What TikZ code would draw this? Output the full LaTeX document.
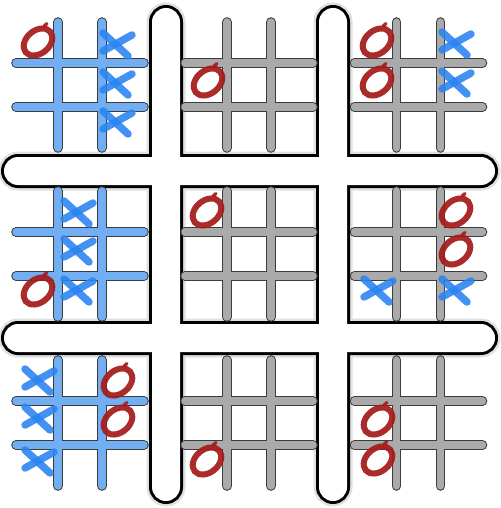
\documentclass[tikz,border=0pt]{standalone}
\definecolor{gridblue}{HTML}{72AEF2}
\definecolor{gridgray}{HTML}{AAAAAA}
\definecolor{gridedge}{HTML}{3C3C3C}
\definecolor{ored}{HTML}{A51B1B}
\definecolor{xblue}{HTML}{2A84F2}
\tikzset{
  barline/.style={black, line width=6},
  barshadow/.style={black!12, line width=11},
  barfill/.style={fill=white},
  gridout/.style={gridedge, line width=9.6, line cap=round},
  gridin/.style={line width=7.4, line cap=round},
  omark/.pic={
    \draw[ored, line width=6, opacity=0.93, rotate=40] (0,0) ellipse [x radius=16, y radius=11.5];
    \draw[ored, line width=3.2, line cap=round, opacity=0.93] (6,-16) -- (9,-18.5);
  },
  xmark/.pic={
    \draw[xblue, line width=7.5, line cap=round, opacity=0.88] (-14,7) -- (15,-9);
    \draw[xblue, line width=7.5, line cap=round, opacity=0.88] (-14,-11) -- (11,12);
  }
}
\newcommand\tttgrid[3]{%
  \begin{scope}[shift={(#1,#2)}]
    \foreach \d in {-22,22}{
      \draw[gridout] (\d,-63) -- (\d,63);
      \draw[gridout] (-64,\d) -- (64,\d);
    }
    \foreach \d in {-22,22}{
      \draw[gridin, #3] (\d,-63) -- (\d,63);
      \draw[gridin, #3] (-64,\d) -- (64,\d);
    }
  \end{scope}}
\begin{document}
\begin{tikzpicture}[x=1pt, y=-1pt]
\useasboundingbox (0,0) rectangle (500,508);
\fill[white] (0,0) rectangle (500,508);
% big hash
\foreach \s in {barshadow, barline}{
  \draw[\s, rounded corners=14] (152,8) rectangle (180,501);
  \draw[\s, rounded corners=14] (319,8) rectangle (347,501);
  \draw[\s, rounded corners=14] (4,157) rectangle (495,185);
  \draw[\s, rounded corners=14] (4,324) rectangle (495,352);
}
\fill[barfill, rounded corners=14] (152,8) rectangle (180,501);
\fill[barfill, rounded corners=14] (319,8) rectangle (347,501);
\fill[barfill, rounded corners=14] (4,157) rectangle (495,185);
\fill[barfill, rounded corners=14] (4,324) rectangle (495,352);
% small grids
\tttgrid{80}{85}{gridblue}
\tttgrid{249}{85}{gridgray}
\tttgrid{418.5}{85}{gridgray}
\tttgrid{80}{254}{gridblue}
\tttgrid{249}{254}{gridgray}
\tttgrid{418.5}{254}{gridgray}
\tttgrid{80}{423}{gridblue}
\tttgrid{249}{423}{gridgray}
\tttgrid{418.5}{423}{gridgray}
% top-left board
\pic at (38,42) {omark};
\pic at (117,44) {xmark};
\pic at (117,83) {xmark};
\pic at (117,122) {xmark};
% top-middle
\pic at (208,82) {omark};
% top-right
\pic at (377,42) {omark};
\pic at (377,82) {omark};
\pic at (456,43) {xmark};
\pic at (456,82) {xmark};
% middle-left
\pic at (78,212) {xmark};
\pic at (78,250) {xmark};
\pic at (78,290) {xmark};
\pic at (38,291) {omark};
% middle-middle
\pic at (207,212) {omark};
% middle-right
\pic at (456,212) {omark};
\pic at (456,251) {omark};
\pic at (378,290) {xmark};
\pic at (456,290) {xmark};
% bottom-left
\pic at (39,380) {xmark};
\pic at (39,418) {xmark};
\pic at (39,461) {xmark};
\pic at (118,382) {omark};
\pic at (118,421) {omark};
% bottom-middle
\pic at (207,461) {omark};
% bottom-right
\pic at (378,421) {omark};
\pic at (378,460) {omark};
\end{tikzpicture}
\end{document}
